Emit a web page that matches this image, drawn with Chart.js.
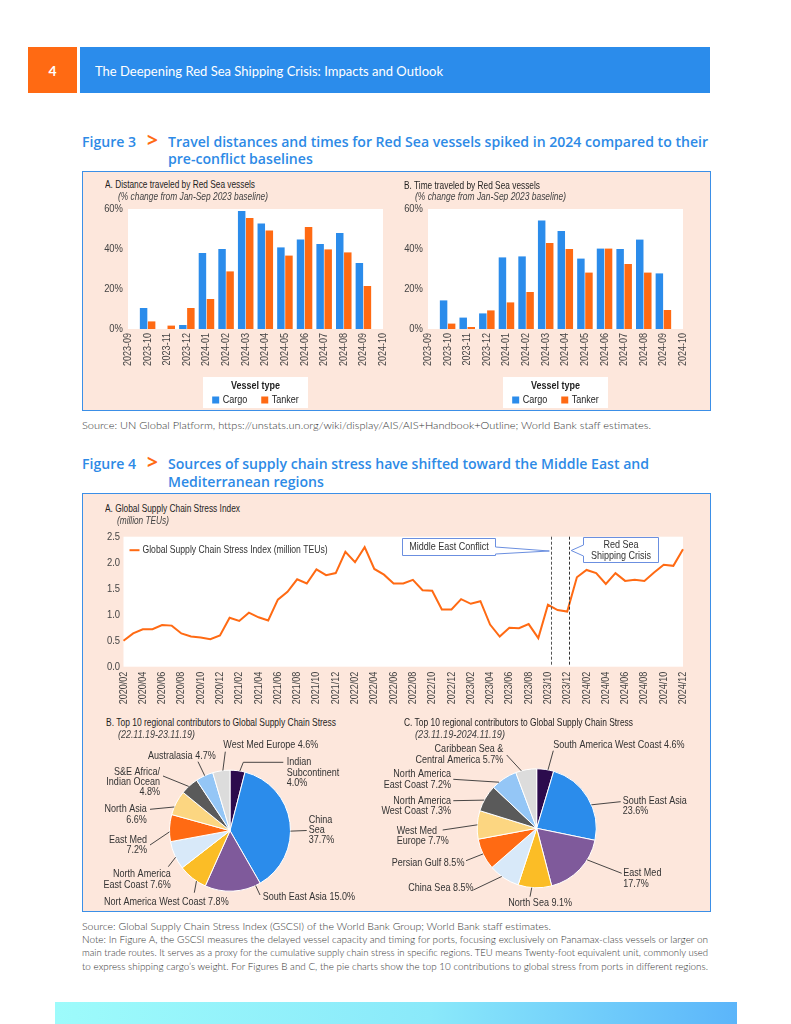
<!DOCTYPE html>
<html><head><meta charset="utf-8">
<script src="https://cdn.jsdelivr.net/npm/chart.js@4.4.1/dist/chart.umd.min.js"></script>
<style>
html,body{margin:0;padding:0;background:#fff}
body{width:791px;height:1024px;position:relative;overflow:hidden}
.abs{position:absolute;white-space:nowrap}
.box{position:absolute;box-sizing:border-box}
canvas{position:absolute}
</style></head><body>
<div class="box" style="left:28px;top:47px;width:49px;height:46px;background:#ff6a13"></div>
<div class="box" style="left:80px;top:47px;width:630px;height:46px;background:#2b8ceb"></div>
<div class="box" style="left:82px;top:171px;width:629px;height:240px;background:#fde7dc;border:1.5px solid #3b8fe7"></div>
<div class="box" style="left:82px;top:493px;width:629px;height:419px;background:#fde7dc;border:1.5px solid #3b8fe7"></div>
<div class="box" style="left:55px;top:1002px;width:682px;height:22px;background:linear-gradient(90deg,#9dfbfb,#8ae9fa 55%,#5bb5fa)"></div>
<canvas id="barA" width="304" height="215" style="left:84px;top:195px"></canvas>
<canvas id="barB" width="304" height="215" style="left:384px;top:195px"></canvas>
<canvas id="line" width="624" height="180" style="left:84px;top:525px"></canvas>
<canvas id="pieB" width="310" height="174" style="left:84px;top:736px"></canvas>
<canvas id="pieC" width="336" height="174" style="left:372px;top:736px"></canvas>
<script>
// ---------------- DATA ----------------
const barMonths = ['2023-09','2023-10','2023-11','2023-12','2024-01','2024-02','2024-03','2024-04','2024-05','2024-06','2024-07','2024-08','2024-09','2024-10'];
const vesselTypes = ['Cargo','Tanker'];
const distanceCargo  = [null,10.5,0,2.0,38.0,40.0,59.0,52.8,40.8,44.7,42.5,48.0,33.0,null];
const distanceTanker = [null,3.8,1.7,10.5,15.0,28.8,55.5,49.3,36.7,51.0,39.8,38.3,21.5,null];
const timeCargo  = [null,14.3,5.7,7.8,35.8,36.3,54.2,49.0,35.2,40.2,40.0,44.7,27.8,null];
const timeTanker = [null,2.7,1.0,9.3,13.3,18.5,43.0,40.0,28.2,40.2,32.5,28.2,9.5,null];
const pctTicks = [0,20,40,60];

const gscsiMonths = ['2020/02','2020/03','2020/04','2020/05','2020/06','2020/07','2020/08','2020/09','2020/10','2020/11','2020/12',
 '2021/01','2021/02','2021/03','2021/04','2021/05','2021/06','2021/07','2021/08','2021/09','2021/10','2021/11','2021/12',
 '2022/01','2022/02','2022/03','2022/04','2022/05','2022/06','2022/07','2022/08','2022/09','2022/10','2022/11','2022/12',
 '2023/01','2023/02','2023/03','2023/04','2023/05','2023/06','2023/07','2023/08','2023/09','2023/10','2023/11','2023/12',
 '2024/01','2024/02','2024/03','2024/04','2024/05','2024/06','2024/07','2024/08','2024/09','2024/10','2024/11','2024/12'];
const gscsiValues = [0.50,0.64,0.72,0.72,0.80,0.79,0.64,0.58,0.56,0.53,0.60,
 0.94,0.88,1.04,0.95,0.89,1.29,1.44,1.68,1.60,1.87,1.76,1.80,
 2.21,2.01,2.30,1.88,1.77,1.60,1.60,1.67,1.47,1.46,1.10,1.10,
 1.30,1.21,1.26,0.81,0.58,0.75,0.74,0.82,0.55,1.19,1.09,1.06,
 1.72,1.86,1.80,1.59,1.80,1.65,1.67,1.65,1.81,1.96,1.94,2.26];
const gscsiTicks = [0,0.5,1.0,1.5,2.0,2.5];
const eventNames = ['Middle East Conflict','Red Sea Shipping Crisis'];
const eventPositions = [44.35, 46.15]; // month index counted from 2020/02

const regionsB = ['Indian Subcontinent','China Sea','South East Asia','Nort America West Coast','North America East Coast','East Med','North Asia','S&E Africa/ Indian Ocean','Australasia','West Med Europe'];
const sharesB  = [4.0,37.7,15.0,7.8,7.6,7.2,6.6,4.8,4.7,4.6];
const regionsC = ['South America West Coast','South East Asia','East Med','North Sea','China Sea','Persian Gulf','West Med Europe','North America West Coast','North America East Coast','Caribbean Sea & Central America'];
const sharesC  = [4.6,23.6,17.7,9.1,8.5,8.5,7.7,7.3,7.2,5.7];

// ---------------- STYLE ----------------
const SANS = "'Liberation Sans',Arial,sans-serif";
const COND = 0.82;   // horizontal squeeze of chart text (narrow face)
const BLUE = '#2b8ceb', ORANGE = '#ff6a13';
const pieColors = ['#2c0b4d','#2b8ceb','#7f5a9b','#fbbd26','#d8e9f9','#ff6a13','#fcd681','#5a5a5a','#94c6f6','#dcdcdc'];
Chart.defaults.font.family = SANS;
Chart.defaults.color = '#444';

// ---------------- PAGE TEXT ----------------
function place(t, x, y, o={}){
  const d=document.createElement('div');
  d.className='abs';
  const s=o.size||10;
  d.style.font=`${o.italic?'italic ':''}${o.weight||'normal'} ${s}px ${o.family||SANS}`;
  d.style.lineHeight=Math.round(s*1.3)+'px';
  d.style.color=o.color||'#1e1e1e';
  d.textContent=t;
  document.body.appendChild(d);
  let w=d.getBoundingClientRect().width;
  let sx=o.sx||1;
  if(o.fit) sx=o.fit/w;
  d.style.transformOrigin='0 50%';
  d.style.transform=`scaleX(${sx})`;
  w*=sx;
  let left=x; if(o.align==='right') left=x-w; else if(o.align==='center') left=x-w/2;
  d.style.left=left+'px'; d.style.top=(y-Math.round(s*1.3)/2)+'px';
  return sx;
}
const LATO="Lato,'Open Sans',sans-serif";
const TITLEF="'Open Sans',Lato,sans-serif";
place('4',52.5,70.5,{size:14,weight:'bold',color:'#fff',family:LATO,align:'center'});
place('The Deepening Red Sea Shipping Crisis: Impacts and Outlook',95,71,{size:13,color:'#fff',family:LATO,fit:348});
const tsx = place('Travel distances and times for Red Sea vessels spiked in 2024 compared to their',168,141,{size:14.5,weight:600,color:'#2d8ae6',family:TITLEF,fit:540});
place('Figure 3',82,141,{size:14.5,weight:600,color:'#2d8ae6',family:TITLEF,sx:tsx});
place('>',147,140.5,{size:19,weight:'bold',color:ORANGE,family:TITLEF});
place('pre-conflict baselines',168,158.5,{size:14.5,weight:600,color:'#2d8ae6',family:TITLEF,sx:tsx});
place('Figure 4',82,463,{size:14.5,weight:600,color:'#2d8ae6',family:TITLEF,sx:tsx});
place('>',147,462.5,{size:19,weight:'bold',color:ORANGE,family:TITLEF});
place('Sources of supply chain stress have shifted toward the Middle East and',168,463,{size:14.5,weight:600,color:'#2d8ae6',family:TITLEF,sx:tsx});
place('Mediterranean regions',168,481,{size:14.5,weight:600,color:'#2d8ae6',family:TITLEF,sx:tsx});
const NOTE={size:9.5,color:'#333',family:LATO,weight:300};
place('Source: UN Global Platform, https://unstats.un.org/wiki/display/AIS/AIS+Handbook+Outline; World Bank staff estimates.',82,426,{...NOTE,fit:569});
place('Source: Global Supply Chain Stress Index (GSCSI) of the World Bank Group; World Bank staff estimates.',82,926.5,{...NOTE,fit:469});
place('Note: In Figure A, the GSCSI measures the delayed vessel capacity and timing for ports, focusing exclusively on Panamax-class vessels or larger on',82,940,{...NOTE,fit:626});
place('main trade routes. It serves as a proxy for the cumulative supply chain stress in specific regions. TEU means Twenty-foot equivalent unit, commonly used',82,953,{...NOTE,fit:626});
place('to express shipping cargo\u2019s weight. For Figures B and C, the pie charts show the top 10 contributions to global stress from ports in different regions.',82,966.5,{...NOTE,fit:626});
// panel titles
place('A. Distance traveled by Red Sea vessels',105,184,{size:10.5,fit:150});
place('(% change from Jan-Sep 2023 baseline)',117.7,196,{size:10.5,italic:true,color:'#444',fit:150});
place('B. Time traveled by Red Sea vessels',404,185,{size:10.5,fit:136});
place('(% change from Jan-Sep 2023 baseline)',415,196,{size:10.5,italic:true,color:'#444',fit:151});
place('A. Global Supply Chain Stress Index',105,508,{size:10.5,fit:135});
place('(million TEUs)',116.5,520,{size:10.5,italic:true,color:'#444',fit:52});
place('B. Top 10 regional contributors to Global Supply Chain Stress',106,721.7,{size:10.5,fit:230});
place('(22.11.19-23.11.19)',117.7,734,{size:10.5,italic:true,color:'#444',fit:77});
place('C. Top 10 regional contributors to Global Supply Chain Stress',404,721.7,{size:10.5,fit:229});
place('(23.11.19-2024.11.19)',415,734,{size:10.5,italic:true,color:'#444',fit:90});

// ---------------- PLUGINS ----------------
const condense={id:'condense',beforeInit(c){const ctx=c.ctx;if(ctx.__orig)return;ctx.__orig=ctx.fillText;
  ctx.fillText=function(t,x,y){this.save();this.translate(x,y);this.scale(COND,1);this.__orig(t,0,0);this.restore();};}};
const plotBg={id:'plotBg',beforeDraw(c){const a=c.chartArea;c.ctx.save();c.ctx.fillStyle='#fff';c.ctx.fillRect(a.left,a.top,a.right-a.left,a.bottom-a.top);c.ctx.restore();}};

const vesselLegend={id:'vesselLegend',afterDraw(chart,args,o){
  const ctx=chart.ctx, ca=chart.chartArea;
  const x=(ca.left+ca.right)/2-o.width/2, y=o.top;
  ctx.save();
  ctx.fillStyle='#fff'; ctx.fillRect(x,y,o.width,o.height);
  ctx.textBaseline='middle'; ctx.textAlign='center'; ctx.fillStyle='#1e1e1e';
  ctx.font=`bold 11px ${SANS}`; ctx.fillText(o.title,x+o.width/2,y+8.5);
  ctx.font=`11px ${SANS}`;
  const ds=chart.data.datasets, sq=7, g=3.5, gap=14;
  const ws=ds.map(d=>ctx.measureText(d.label).width*COND);
  const total=ws.reduce((a,b)=>a+b,0)+ds.length*(sq+g)+gap*(ds.length-1);
  let cx=x+o.width/2-total/2; const iy=y+23;
  ctx.textAlign='left';
  ds.forEach((d,i)=>{ctx.fillStyle=d.backgroundColor;ctx.fillRect(cx,iy-sq/2,sq,sq);cx+=sq+g;ctx.fillStyle='#1e1e1e';ctx.fillText(d.label,cx,iy);cx+=ws[i]+gap;});
  ctx.restore();
}};

const gscsiDecor={id:'gscsiDecor',afterDatasetsDraw(chart,args,o){
  const {ctx,chartArea:ca,scales:{x}}=chart; const OX=o.ox, OY=o.oy;
  ctx.save();
  ctx.lineWidth=1; ctx.setLineDash([3,2]);
  eventPositions.forEach((p,i)=>{const px=Math.round(x.getPixelForValue(p))+0.5;ctx.strokeStyle=i===0?'#555':'#333';ctx.beginPath();ctx.moveTo(px,ca.top);ctx.lineTo(px,ca.bottom);ctx.stroke();});
  ctx.setLineDash([]);
  o.callouts.forEach((c,i)=>{
    const ax=x.getPixelForValue(eventPositions[i])+c.apexDx, ay=c.apexY-OY;
    const L=c.x-OX,T=c.y-OY,R=L+c.w,B=T+c.h;
    ctx.beginPath();
    if(c.side==='right'){ctx.moveTo(L,T);ctx.lineTo(R,T);ctx.lineTo(R,c.b1-OY);ctx.lineTo(ax,ay);ctx.lineTo(R,c.b2-OY);ctx.lineTo(R,B);ctx.lineTo(L,B);ctx.closePath();}
    else{ctx.moveTo(L,T);ctx.lineTo(R,T);ctx.lineTo(R,B);ctx.lineTo(L,B);ctx.lineTo(L,c.b2-OY);ctx.lineTo(ax,ay);ctx.lineTo(L,c.b1-OY);ctx.closePath();}
    ctx.fillStyle='#fff';ctx.fill();ctx.strokeStyle='#6b8fe0';ctx.lineWidth=1;ctx.stroke();
    const words=eventNames[i].split(' '); let k=0;
    ctx.fillStyle='#333';ctx.font=`11px ${SANS}`;ctx.textAlign='center';ctx.textBaseline='middle';
    const n=c.split.length, cy=(T+B)/2;
    c.split.forEach((m,j)=>{const line=words.slice(k,k+m).join(' ');k+=m;ctx.fillText(line,(L+R)/2,cy+(j-(n-1)/2)*11);});
  });
  const ds=chart.data.datasets[0];
  const lx=ca.left+6, ly=ca.top+13.5;
  ctx.strokeStyle=ds.borderColor;ctx.lineWidth=2;ctx.beginPath();ctx.moveTo(lx,ly);ctx.lineTo(lx+10,ly);ctx.stroke();
  ctx.fillStyle='#333';ctx.font=`10.5px ${SANS}`;ctx.textAlign='left';ctx.textBaseline='middle';
  ctx.fillText(ds.label,lx+13,ly);
  ctx.restore();
}};

const pieLabels={id:'pieLabels',afterDraw(chart,args,o){
  const ctx=chart.ctx, meta=chart.getDatasetMeta(0), names=chart.data.labels, vals=chart.data.datasets[0].data;
  ctx.save();ctx.font=`11px ${SANS}`;ctx.fillStyle='#333';ctx.strokeStyle='#333';ctx.lineWidth=0.9;ctx.textBaseline='middle';
  o.items.forEach((it,i)=>{
    const arc=meta.data[i];
    const p=arc.getProps(['x','y','startAngle','endAngle','outerRadius'],true);
    const a=p.startAngle+(p.endAngle-p.startAngle)*it.t;
    ctx.beginPath();ctx.moveTo(p.x+Math.cos(a)*p.outerRadius,p.y+Math.sin(a)*p.outerRadius);
    it.path.forEach(q=>ctx.lineTo(q[0]-o.ox,q[1]-o.oy));ctx.stroke();
    const words=(names[i]+' '+vals[i].toFixed(1)+'%').split(' ');let k=0;
    ctx.textAlign=it.align;
    it.split.forEach((m,j)=>{const line=words.slice(k,k+m).join(' ');k+=m;ctx.fillText(line,it.x-o.ox,it.y-o.oy+j*10.2);});
  });
  ctx.restore();
}};

// ---------------- CHARTS ----------------
function barChart(id,cargo,tanker){
  return new Chart(document.getElementById(id),{
    type:'bar',
    data:{labels:barMonths,datasets:[
      {label:vesselTypes[0],data:cargo,backgroundColor:BLUE},
      {label:vesselTypes[1],data:tanker,backgroundColor:ORANGE}]},
    options:{responsive:false,animation:false,events:[],
      layout:{padding:{top:14,right:5,bottom:40,left:0}},
      datasets:{bar:{categoryPercentage:0.82,barPercentage:0.93}},
      scales:{
        x:{offset:false,grid:{display:false,drawTicks:false},border:{display:false},
           ticks:{autoSkip:false,minRotation:90,maxRotation:90,padding:4,color:'#444',font:{size:11}},
           afterFit(s){s.height=41;s.paddingLeft=0;s.paddingRight=0;}},
        y:{min:0,max:60,grid:{display:false,drawTicks:false},border:{display:false},
           afterBuildTicks(s){s.ticks=pctTicks.map(v=>({value:v}));},
           ticks:{padding:5,color:'#444',font:{size:11.5},callback:v=>v+'%'},
           afterFit(s){s.width=44;}}},
      plugins:{legend:{display:false},tooltip:{enabled:false},
        vesselLegend:{top:182,width:105,height:31,title:'Vessel type'}}},
    plugins:[condense,plotBg,vesselLegend]});
}
barChart('barA',distanceCargo,distanceTanker);
barChart('barB',timeCargo,timeTanker);

new Chart(document.getElementById('line'),{
  type:'line',
  data:{labels:gscsiMonths,datasets:[{label:'Global Supply Chain Stress Index (million TEUs)',data:gscsiValues,borderColor:ORANGE,borderWidth:2,pointRadius:0,tension:0,fill:false}]},
  options:{responsive:false,animation:false,events:[],
    layout:{padding:{top:11.7,right:25,bottom:0,left:0}},
    scales:{
      x:{grid:{display:false,drawTicks:false},border:{display:false},
         ticks:{autoSkip:false,minRotation:90,maxRotation:90,padding:5,color:'#444',font:{size:11},
           callback:(v,i)=>i%2===0?gscsiMonths[i]:null},
         afterFit(s){s.height=38.3;s.paddingLeft=0;s.paddingRight=0;}},
      y:{min:0,max:2.5,grid:{display:false,drawTicks:false},border:{display:false},
         afterBuildTicks(s){s.ticks=gscsiTicks.map(v=>({value:v}));},
         ticks:{padding:3.5,color:'#444',font:{size:11.5},callback:v=>v.toFixed(1)},
         afterFit(s){s.width=39.5;}}},
    plugins:{legend:{display:false},tooltip:{enabled:false},
      gscsiDecor:{ox:84,oy:525,callouts:[
        {x:402.5,y:538.5,w:93,h:17,side:'right',b1:547,b2:554,apexY:551,apexDx:-2,split:[3]},
        {x:583.5,y:537.5,w:75,h:25,side:'left',b1:545,b2:556,apexY:550.5,apexDx:2.5,split:[2,2]}]}}},
  plugins:[condense,plotBg,gscsiDecor]});

function pieChart(id,labels,values,cx,cy,r,ox,oy,w,h,items){
  return new Chart(document.getElementById(id),{
    type:'pie',
    data:{labels:labels,datasets:[{data:values,backgroundColor:pieColors,borderColor:'#fff',borderWidth:1}]},
    options:{responsive:false,animation:false,events:[],
      layout:{padding:{left:cx-r-ox,top:cy-r-oy,right:ox+w-(cx+r),bottom:oy+h-(cy+r)}},
      plugins:{legend:{display:false},tooltip:{enabled:false},pieLabels:{ox:ox,oy:oy,items:items}}},
    plugins:[condense,pieLabels]});
}
pieChart('pieB',regionsB,sharesB,230,830.7,61,84,736,310,174,[
  {t:0.65,path:[[243.3,762.3],[283.3,762.3]],split:[1,1,1],x:286.7,y:762.3,align:'left'},
  {t:0.56,path:[[306.7,830.5]],split:[1,1,1],x:308.7,y:820,align:'left'},
  {t:0.09,path:[[260,895]],split:[4],x:262.7,y:897.3,align:'left'},
  {t:0.34,path:[[194.3,892.7]],split:[5],x:104,y:901.7,align:'left'},
  {t:0.43,path:[[168.3,866.7]],split:[2,3],x:170.7,y:874.3,align:'right'},
  {t:0.36,path:[[150,845]],split:[2,1],x:147,y:840,align:'right'},
  {t:0.32,path:[[150,809.3]],split:[2,1],x:146.7,y:809.3,align:'right'},
  {t:0.45,path:[[163,776]],split:[2,2,1],x:160,y:771.7,align:'right'},
  {t:0.52,path:[[198,761.7]],split:[2],x:148,y:756,align:'left'},
  {t:0.59,path:[[225.3,751.7]],split:[4],x:223.3,y:745,align:'left'}]);
pieChart('pieC',regionsC,sharesC,536.7,828.3,60,372,736,336,174,[
  {t:0.66,path:[[553.3,750.7]],split:[5],x:553.3,y:745,align:'left'},
  {t:0.59,path:[[620.7,801.7]],split:[3,1],x:622.7,y:800.7,align:'left'},
  {t:0.32,path:[[621.7,873.3]],split:[2,1],x:623.3,y:873.3,align:'left'},
  {t:0.59,path:[[530,896.7]],split:[3],x:508.3,y:902.7,align:'left'},
  {t:0.58,path:[[473.3,890]],split:[3],x:408.3,y:887.7,align:'left'},
  {t:0.51,path:[[466,860.7]],split:[3],x:391.7,y:862.7,align:'left'},
  {t:0.5,path:[[442.7,830]],split:[2,2],x:396.7,y:831,align:'left'},
  {t:0.42,path:[[453.3,800.7]],split:[2,3],x:451,y:800.7,align:'right'},
  {t:0.28,path:[[453.3,779.3]],split:[2,3],x:451,y:774.3,align:'right'},
  {t:0.27,path:[[506.7,755]],split:[3,3],x:503.3,y:749.3,align:'right'}]);
</script>
</body></html>
